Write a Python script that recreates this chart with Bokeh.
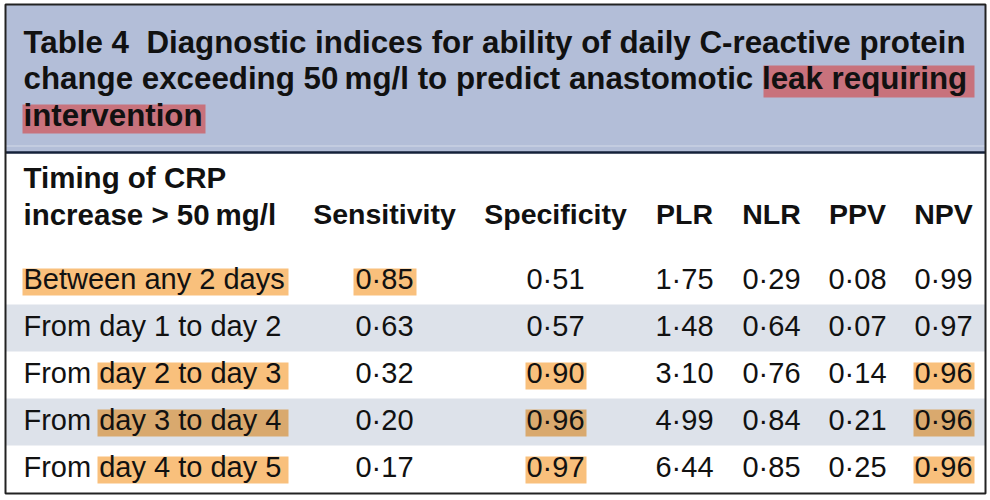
from bokeh.plotting import figure
from bokeh.models import Range1d
from bokeh.core.properties import value
from bokeh.embed import file_html
from bokeh.resources import INLINE

# ---- data ----
title_lines = [
    "Table 4\u00a0\u00a0Diagnostic indices for ability of daily C-reactive protein",
    "change exceeding 50\u2009mg/l to predict anastomotic leak requiring",
    "intervention",
]
header_first = ["Timing of CRP", "increase > 50\u2009mg/l"]
columns = ["Sensitivity", "Specificity", "PLR", "NLR", "PPV", "NPV"]
timing = ["Between any 2 days", "From day 1 to day 2", "From day 2 to day 3",
          "From day 3 to day 4", "From day 4 to day 5"]
sensitivity = [0.85, 0.63, 0.32, 0.20, 0.17]
specificity = [0.51, 0.57, 0.90, 0.96, 0.97]
plr = [1.75, 1.48, 3.10, 4.99, 6.44]
nlr = [0.29, 0.64, 0.76, 0.84, 0.85]
ppv = [0.08, 0.07, 0.14, 0.21, 0.25]
npv = [0.99, 0.97, 0.96, 0.96, 0.96]
# highlighted cells: (row, column index; -1 = timing full, -2 = timing partial)
highlights = [(0, -1), (0, 0), (2, -2), (2, 1), (2, 5), (3, -2), (3, 1), (3, 5),
              (4, -2), (4, 1), (4, 5)]

# ---- layout (pixel space of the reference) ----
FONT = value("Liberation Sans")
INK = "#111111"
BAND = "#b3bed8"
STRIPE = "#dde2ea"
ORANGE = "#f9c07c"
ORANGE_ON_STRIPE = "#d9a96e"
RED = "#c8727c"
TEXT_DY = -10.5  # compensates text placement of the svg backend

col_x = [384, 555, 684, 771, 857, 943]
col_half = [31, 30, 29, 29, 29, 30]
first_x = 23
title_base = [52, 88, 125]
head_base = [187, 224]
row_base = [289, 336, 383, 430, 477]
row_top0 = 257
row_h = 47
XL, XR, YT, YB = 5, 985, 4, 493

p = figure(width=990, height=500, x_range=Range1d(0, 990), y_range=Range1d(500, 0),
           output_backend="svg", toolbar_location=None, min_border=0)
p.axis.visible = False
p.grid.visible = False
p.background_fill_color = "white"
p.outline_line_color = None

# title band
p.quad(left=[XL], right=[XR], top=[YT], bottom=[152], fill_color=BAND, line_color=None)
p.segment(x0=[XL], x1=[XR], y0=[145.5], y1=[145.5], line_color="#d3dae8", line_width=1)
p.segment(x0=[XL], x1=[XR], y0=[152], y1=[152], line_color="#14213a", line_width=2.5)

# red highlights in the title
p.quad(left=[763, 22], right=[974, 205], top=[65, 104], bottom=[97, 133],
       fill_color=RED, line_color=None)

# row stripes
for i in range(len(timing)):
    if i % 2 == 1:
        t = row_top0 + i * row_h
        p.quad(left=[XL], right=[XR], top=[t], bottom=[t + row_h],
               fill_color=STRIPE, line_color=None)

# orange highlights
L, R, T, B = [], [], [], []
colors = []
for r, c in highlights:
    base = row_base[r]
    if c == -1:
        l, rr = 22, 288
    elif c == -2:
        l, rr = 97, 288
    else:
        l, rr = col_x[c] - col_half[c], col_x[c] + col_half[c] + 1
    L.append(l); R.append(rr); T.append(base - 21); B.append(base + 6)
    colors.append(ORANGE_ON_STRIPE if r % 2 == 1 else ORANGE)
p.quad(left=L, right=R, top=T, bottom=B, fill_color=colors, line_color=None)

# outer border
p.quad(left=[XL], right=[XR], top=[YT], bottom=[YB], fill_color=None,
       line_color="#222222", line_width=2)

# title text
p.text(x=[23] * 3, y=[b + TEXT_DY for b in title_base], text=title_lines, text_font=FONT,
       text_font_style="bold", text_font_size="31.3px", text_color=INK,
       text_baseline="alphabetic", text_align="left")

# header
p.text(x=[first_x] * 2, y=[b + TEXT_DY for b in head_base], text=header_first, text_font=FONT,
       text_font_style="bold", text_font_size="29.5px", text_color=INK,
       text_baseline="alphabetic", text_align="left")
p.text(x=col_x, y=[head_base[1] + TEXT_DY] * len(columns), text=columns, text_font=FONT,
       text_font_style="bold", text_font_size="28.5px", text_color=INK,
       text_baseline="alphabetic", text_align="center")

# body
p.text(x=[first_x] * len(timing), y=[b + TEXT_DY for b in row_base], text=timing,
       text_font=FONT, text_font_size="29px", text_color=INK,
       text_baseline="alphabetic", text_align="left")

def fmt(v):
    return f"{v:.2f}".replace(".", "\u00b7")

series = [sensitivity, specificity, plr, nlr, ppv, npv]
xs, ys, ts = [], [], []
for ci, s in enumerate(series):
    for ri, v in enumerate(s):
        xs.append(col_x[ci]); ys.append(row_base[ri] + TEXT_DY); ts.append(fmt(v))
p.text(x=xs, y=ys, text=ts, text_font=FONT, text_font_size="29px", text_color=INK,
       text_baseline="alphabetic", text_align="center")

open("out.html", "w").write(file_html(p, INLINE))
